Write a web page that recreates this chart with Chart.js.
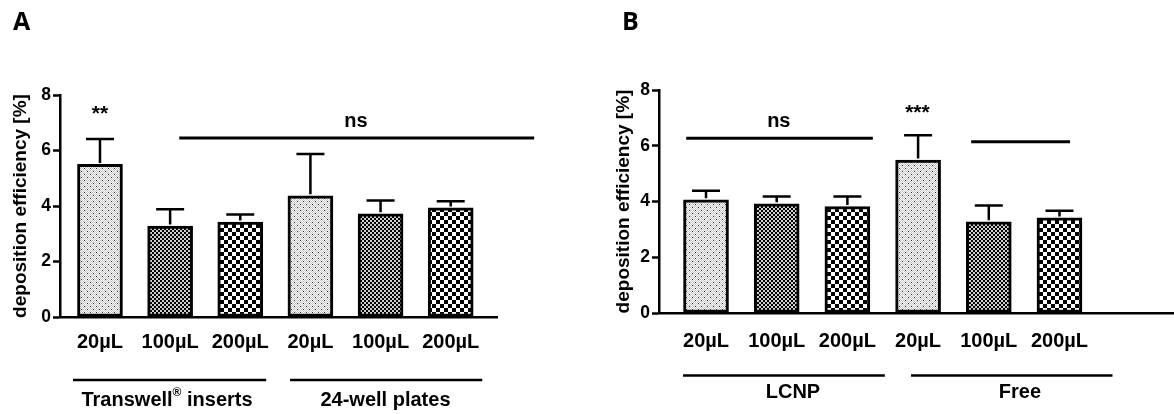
<!DOCTYPE html>
<html><head><meta charset="utf-8">
<script src="https://cdn.jsdelivr.net/npm/chart.js@4.4.1/dist/chart.umd.min.js"></script>
<style>
html,body{margin:0;padding:0;background:#fff;width:1174px;height:414px;overflow:hidden;}
#wrap{position:relative;width:1174px;height:414px;}
canvas{position:absolute;top:0;}
#cA{left:0}
#cB{left:587px}
</style></head><body>
<div id="wrap"><canvas id="cA" width="587" height="414"></canvas><canvas id="cB" width="587" height="414"></canvas></div>
<script>
// ---------- data ----------
const xLabels = ['20µL', '100µL', '200µL', '20µL', '100µL', '200µL'];
const yTicks = [0, 2, 4, 6, 8];
const yTitle = 'deposition efficiency [%]';
const meansA = [5.50, 3.28, 3.42, 4.37, 3.72, 3.93];
const sdA    = [0.91, 0.60, 0.27, 1.50, 0.48, 0.24];
const meansB = [4.06, 3.92, 3.82, 5.49, 3.27, 3.41];
const sdB    = [0.33, 0.26, 0.36, 0.89, 0.59, 0.26];
const groupsA = ['Transwell® inserts', '24-well plates'];
const groupsB = ['LCNP', 'Free'];
const fillKinds = ['light', 'medium', 'check', 'light', 'medium', 'check'];
const sigA = ['**', 'ns'];
const sigB = ['ns', '***', ''];

// ---------- layout / styling (not data) ----------
const FONT = '"Liberation Sans", Arial, Helvetica, sans-serif';
Chart.defaults.color = '#000';
Chart.defaults.font.family = FONT;

function makePattern(ctx, kind) {
  const c = document.createElement('canvas');
  const g = c.getContext('2d');
  if (kind === 'light') {
    c.width = 6; c.height = 6;
    g.fillStyle = '#fff'; g.fillRect(0, 0, 6, 6);
    g.fillStyle = '#c4c4c4';
    for (let y = 0; y < 6; y++) for (let x = 0; x < 6; x++) if ((x + y) % 2 === 0) g.fillRect(x, y, 1, 1);
    g.fillStyle = '#222'; g.fillRect(0, 0, 1, 1); g.fillRect(3, 3, 1, 1);
  } else if (kind === 'medium') {
    c.width = 4; c.height = 4;
    g.fillStyle = '#cfcfcf'; g.fillRect(0, 0, 4, 4);
    g.fillStyle = '#000'; g.fillRect(0, 0, 2, 2); g.fillRect(2, 2, 2, 2);
  } else {
    c.width = 8; c.height = 8;
    g.fillStyle = '#fff'; g.fillRect(0, 0, 8, 8);
    g.fillStyle = '#000'; g.fillRect(0, 0, 4, 4); g.fillRect(4, 4, 4, 4);
  }
  return ctx.createPattern(c, 'repeat');
}

function drawRich(ctx, text, cx, cy, size) {
  const parts = text.split('®');
  ctx.textBaseline = 'middle';
  ctx.textAlign = 'left';
  const big = 'bold ' + size + 'px ' + FONT;
  const small = 'bold ' + Math.round(size * 0.62) + 'px ' + FONT;
  ctx.font = big;
  const w1 = ctx.measureText(parts[0]).width;
  let wr = 0, w2 = 0;
  if (parts.length > 1) {
    ctx.font = small; wr = ctx.measureText('®').width;
    ctx.font = big; w2 = ctx.measureText(parts[1]).width;
  }
  let x = cx - (w1 + wr + w2) / 2;
  ctx.font = big; ctx.fillText(parts[0], x, cy); x += w1;
  if (parts.length > 1) {
    ctx.font = small; ctx.fillText('®', x, cy - size * 0.38); x += wr;
    ctx.font = big; ctx.fillText(parts[1], x, cy);
  }
}

function buildChart(id, cfg) {
  const canvas = document.getElementById(id);
  const ctx = canvas.getContext('2d');
  const patterns = fillKinds.map(k => makePattern(ctx, k));

  const extras = {
    id: 'extras' + id,
    afterDatasetsDraw(chart) {
      const c = chart.ctx, ys = chart.scales.y;
      const meta = chart.getDatasetMeta(0);
      c.save();
      c.strokeStyle = '#000'; c.lineWidth = 2.5; c.lineCap = 'butt';
      cfg.means.forEach((m, i) => {
        const x = meta.data[i].x;
        const y0 = ys.getPixelForValue(m);
        const y1 = ys.getPixelForValue(m + cfg.sd[i]);
        c.beginPath();
        c.moveTo(x, y0 - 1.5); c.lineTo(x, y1);
        c.moveTo(x - 14, y1); c.lineTo(x + 14, y1);
        c.stroke();
      });
      c.restore();
    },
    afterDraw(chart) {
      const c = chart.ctx, ys = chart.scales.y, xs = chart.scales.x;
      const area = chart.chartArea;
      c.save();
      c.fillStyle = '#000'; c.strokeStyle = '#000';
      // panel letter
      c.font = 'bold 25px "Open Sans", ' + FONT;
      c.textAlign = 'left'; c.textBaseline = 'alphabetic';
      c.fillText(cfg.letter, cfg.letterX, 30);
      // significance lines
      c.lineWidth = 3;
      cfg.sigLines.forEach(l => {
        const y = ys.getPixelForValue(l.y);
        c.beginPath(); c.moveTo(xs.getPixelForValue(l.x0), y); c.lineTo(xs.getPixelForValue(l.x1), y); c.stroke();
      });
      // significance texts
      c.textAlign = 'center'; c.textBaseline = 'middle';
      cfg.sigTexts.forEach(t => {
        c.font = 'bold ' + t.size + 'px ' + FONT;
        c.fillText(t.text, xs.getPixelForValue(t.x), ys.getPixelForValue(t.y));
      });
      // group lines and labels
      c.lineWidth = 2.5;
      cfg.groups.forEach((g, k) => {
        const gl = cfg.groupLines[k];
        const y = area.bottom + cfg.groupLineOffset;
        c.beginPath(); c.moveTo(xs.getPixelForValue(gl.x0), y); c.lineTo(xs.getPixelForValue(gl.x1), y); c.stroke();
        drawRich(c, g, xs.getPixelForValue(gl.cx), area.bottom + cfg.groupLabelOffset, 20);
      });
      c.restore();
    }
  };

  return new Chart(ctx, {
    type: 'bar',
    data: {
      datasets: [{
        data: cfg.means.map((v, i) => ({ x: i, y: v })),
        backgroundColor: patterns,
        borderColor: '#000',
        borderWidth: 3,
        borderSkipped: false,
        barThickness: 45
      }]
    },
    options: {
      responsive: false,
      devicePixelRatio: 1,
      animation: false,
      events: [],
      layout: { padding: { left: 0, right: cfg.padRight, top: cfg.area.top, bottom: 0 } },
      plugins: { legend: { display: false }, tooltip: { enabled: false } },
      scales: {
        x: {
          type: 'linear',
          min: cfg.xMin, max: cfg.xMax,
          offset: false,
          grid: { display: false, drawTicks: false, offset: false },
          border: { display: true, color: '#000', width: 2.5 },
          afterBuildTicks: s => { s.ticks = xLabels.map((_, i) => ({ value: i })); },
          afterFit: s => { s.height = 414 - cfg.area.bottom; },
          ticks: {
            autoSkip: false, maxRotation: 0, minRotation: 0,
            padding: cfg.xTickPad,
            font: { size: 20, weight: 'bold', family: FONT },
            color: '#000',
            callback: (v, i) => xLabels[i]
          }
        },
        y: {
          min: 0, max: 8,
          grid: { display: true, drawOnChartArea: false, drawTicks: true, tickLength: 7, tickColor: '#000', tickWidth: 2.5, color: '#000' },
          border: { display: true, color: '#000', width: 2.5 },
          afterBuildTicks: s => { s.ticks = yTicks.map(v => ({ value: v })); },
          afterFit: s => { s.width = cfg.area.left; },
          ticks: { padding: 2, font: { size: 17.5, weight: 'bold', family: FONT }, color: '#000' },
          title: {
            display: true, text: yTitle, color: '#000',
            font: { size: 19, weight: 'bold', family: FONT },
            padding: { top: cfg.titlePad, bottom: 0 }
          }
        }
      }
    },
    plugins: [extras]
  });
}

buildChart('cA', {
  means: meansA, sd: sdA, letter: 'A', letterX: 13,
  area: { left: 60, top: 95, bottom: 317 }, padRight: 90,
  xMin: -0.57, xMax: 5.66, xTickPad: 13, titlePad: 9.6,
  sigLines: [{ x0: 1.13, x1: 6.19, y: 6.45 }],
  sigTexts: [{ text: sigA[0], x: 0, y: 7.3, size: 21 }, { text: sigA[1], x: 3.65, y: 7.03, size: 20 }],
  groups: groupsA,
  groupLines: [{ x0: -0.385, x1: 2.37, cx: 0.956 }, { x0: 2.71, x1: 5.45, cx: 4.07 }],
  groupLineOffset: 63, groupLabelOffset: 83
});

buildChart('cB', {
  means: meansB, sd: sdB, letter: 'B', letterX: 35,
  area: { left: 72, top: 90, bottom: 313 }, padRight: 0,
  xMin: -0.665, xMax: 6.62, xTickPad: 16.2, titlePad: 25.6,
  sigLines: [{ x0: -0.28, x1: 2.36, y: 6.27 }, { x0: 3.75, x1: 5.15, y: 6.14 }],
  sigTexts: [{ text: sigB[0], x: 1.03, y: 6.87, size: 20 }, { text: sigB[1], x: 2.99, y: 7.18, size: 21 }],
  groups: groupsB,
  groupLines: [{ x0: -0.325, x1: 2.53, cx: 1.23 }, { x0: 2.9, x1: 5.75, cx: 4.44 }],
  groupLineOffset: 62.4, groupLabelOffset: 79
});
</script>
</body></html>
